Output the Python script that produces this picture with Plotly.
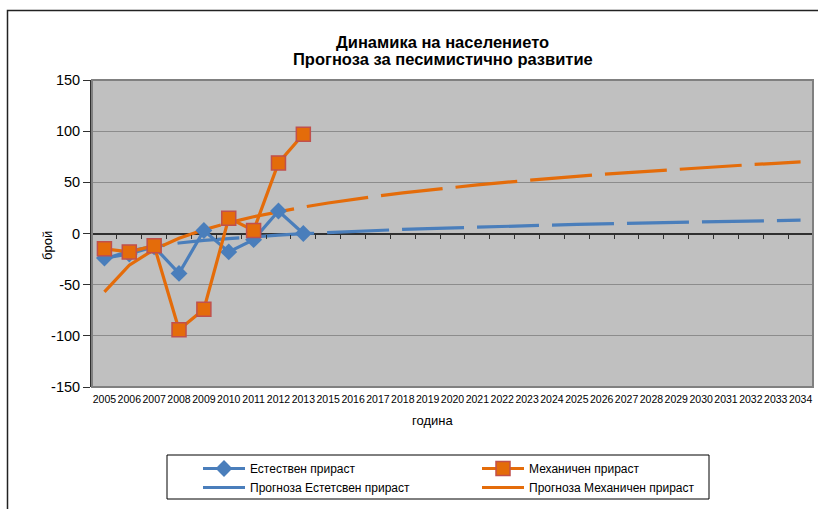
import plotly.graph_objects as go

# Categories (2014 is absent from the series)
years = ["2005", "2006", "2007", "2008", "2009", "2010", "2011", "2012", "2013",
         "2015", "2016", "2017", "2018", "2019", "2020", "2021", "2022", "2023",
         "2024", "2025", "2026", "2027", "2028", "2029", "2030", "2031", "2032",
         "2033", "2034"]

# Observed values, 2005-2013
natural_growth = [-24, -20, -13, -39, 3, -18, -6, 22, 0]
migration_growth = [-15, -18, -12, -94, -74, 15, 3, 69, 97]

# Trend forecasts, 2005-2034
natural_forecast = [-25, -17.2, -12.6, -9.3, -6.8, -4.8, -3.0, -1.5, -0.2, 1.0,
                    2.1, 3.1, 4.0, 4.8, 5.6, 6.3, 7.0, 7.7, 8.3, 8.9,
                    9.4, 9.9, 10.4, 10.9, 11.4, 11.8, 12.2, 12.7, 13.1]
migration_forecast = [-57, -30.9, -15.6, -4.7, 3.7, 10.5, 16.4, 21.4, 25.8, 29.8,
                      33.4, 36.7, 39.7, 42.5, 45.1, 47.5, 49.8, 52.0, 54.0, 55.9,
                      57.8, 59.5, 61.2, 62.8, 64.3, 65.8, 67.3, 68.6, 69.9]

y_ticks = [-150, -100, -50, 0, 50, 100, 150]
y_tick_text = ["-150", "-100", "-50", "0", "50", "100", "150"]

BLUE = "#4A7EBB"
ORANGE = "#E46C0A"
FONT = "Liberation Sans, Arial, sans-serif"

W, H = 818, 509
ML, MR, MT, MB = 92, 5, 80, 122
PW, PH = W - ML - MR, H - MT - MB


def px_x(x):
    return (x - ML) / PW


def px_y(y):
    return (H - MB - y) / PH


fig = go.Figure()

fig.add_trace(go.Scatter(
    x=years, y=natural_forecast, name="Прогноза Естетсвен прираст",
    mode="lines", line=dict(color=BLUE, width=3.2, dash="62px,13px"),
    legendrank=3,
))
fig.add_trace(go.Scatter(
    x=years, y=migration_forecast, name="Прогноза Механичен прираст",
    mode="lines", line=dict(color=ORANGE, width=3.2, dash="62px,13px"),
    legendrank=4,
))
fig.add_trace(go.Scatter(
    x=years[:len(natural_growth)], y=natural_growth, name="Естествен прираст",
    mode="lines+markers", line=dict(color=BLUE, width=3.2),
    marker=dict(symbol="diamond", size=13, color=BLUE),
    legendrank=1,
))
fig.add_trace(go.Scatter(
    x=years[:len(migration_growth)], y=migration_growth, name="Механичен прираст",
    mode="lines+markers", line=dict(color=ORANGE, width=3.2),
    marker=dict(symbol="square", size=14, color=ORANGE,
                line=dict(color="#C0504D", width=1.5)),
    legendrank=2,
))
# carrier for the tick marks along the zero line
fig.add_trace(go.Scatter(x=[0, 28], y=[None, None], xaxis="x2",
                         showlegend=False, hoverinfo="skip"))

title_font = dict(size=16.5, family=FONT, color="black")
label_font = dict(size=13, family=FONT, color="black")

fig.update_layout(
    width=W, height=H,
    margin=dict(l=ML, r=MR, t=MT, b=MB),
    paper_bgcolor="white",
    plot_bgcolor="#C0C0C0",
    font=dict(family=FONT, color="black"),
    xaxis=dict(
        type="category", categoryorder="array", categoryarray=years,
        range=[-0.5, len(years) - 0.5],
        showgrid=False, showline=False, zeroline=False, ticks="",
        tickfont=dict(size=10.5, family=FONT, color="black"),
        tickangle=0, ticklabelstandoff=4,
    ),
    xaxis2=dict(
        overlaying="x", anchor="free", position=0.5,
        range=[-0.5, len(years) - 0.5], tick0=-0.5, dtick=1,
        ticks="outside", ticklen=4, tickwidth=1, tickcolor="#303030",
        showticklabels=False, showgrid=False, showline=False, zeroline=False,
    ),
    yaxis=dict(
        range=[-150, 150], tickmode="array", tickvals=y_ticks, ticktext=y_tick_text,
        showline=True, linecolor="#303030", linewidth=2,
        ticks="outside", ticklen=7, tickcolor="#303030", tickwidth=1,
        gridcolor="#8C8C8C", gridwidth=1,
        zeroline=True, zerolinecolor="#303030", zerolinewidth=1.5,
        tickfont=dict(size=14.5, family=FONT, color="black"),
    ),
    showlegend=True,
    legend=dict(
        orientation="h", x=px_x(198), y=px_y(454),
        xanchor="left", yanchor="top",
        entrywidth=222, itemwidth=42, bgcolor="rgba(0,0,0,0)",
        borderwidth=0,
        font=dict(size=12, family=FONT, color="black"),
    ),
    annotations=[
        dict(text="<b>Динамика на населението</b>", x=px_x(442), y=px_y(42),
             xref="paper", yref="paper", xanchor="center", yanchor="middle",
             showarrow=False, font=title_font),
        dict(text="<b>Прогноза за песимистично развитие</b>", x=px_x(443), y=px_y(59),
             xref="paper", yref="paper", xanchor="center", yanchor="middle",
             showarrow=False, font=title_font),
        dict(text="брой", textangle=-90, x=px_x(47), y=px_y(246),
             xref="paper", yref="paper", xanchor="center", yanchor="middle",
             showarrow=False, font=label_font),
        dict(text="година", x=px_x(432), y=px_y(420),
             xref="paper", yref="paper", xanchor="center", yanchor="middle",
             showarrow=False, font=label_font),
    ],
    shapes=[
        # plot area frame
        dict(type="rect", xref="paper", yref="paper", x0=0, y0=0, x1=1, y1=1,
             line=dict(color="#808080", width=2), layer="above"),
        # legend frame
        dict(type="rect", xref="paper", yref="paper",
             x0=px_x(167), y0=px_y(499), x1=px_x(709), y1=px_y(455),
             line=dict(color="black", width=1), layer="below"),
        # outer chart frame
        dict(type="rect", xref="paper", yref="paper",
             x0=px_x(7.5), y0=px_y(530), x1=px_x(830), y1=px_y(10.5),
             line=dict(color="#222222", width=1.5)),
    ],
)

fig.write_html("out.html")
